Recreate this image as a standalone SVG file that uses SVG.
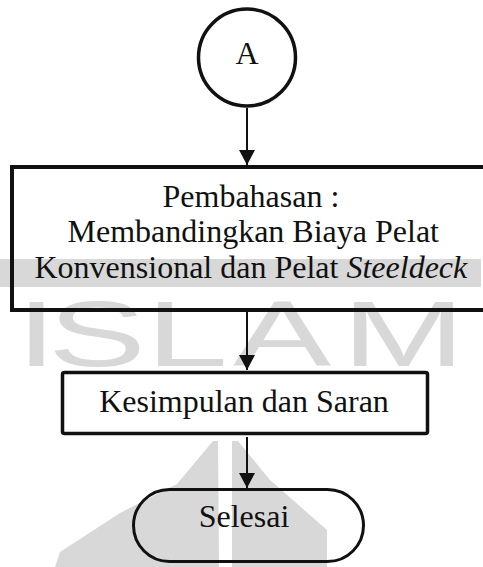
<svg xmlns="http://www.w3.org/2000/svg" width="483" height="567" viewBox="0 0 483 567">
  <style>
    .lbl { font-family: "Liberation Serif", "Times New Roman", serif; font-size: 32px; fill: #111; }
    .wm { font-family: "Liberation Sans", Arial, sans-serif; font-size: 92px; fill: #d8d8d8; }
    .shape { fill: none; stroke: #111; }
    .conn { stroke: #111; stroke-width: 2; fill: none; }
  </style>
  <defs>
    <marker id="arrow" markerUnits="userSpaceOnUse" markerWidth="16" markerHeight="16" refX="15" refY="8" orient="auto">
      <path d="M0,0 L15,8 L0,16 Z" fill="#111"/>
    </marker>
  </defs>
  <rect width="483" height="567" fill="#fff"/>
  <g id="watermark">
    <rect x="0" y="259" width="481" height="28" fill="#d8d8d8"/>
    <text class="wm" x="16" y="366" textLength="41" lengthAdjust="spacingAndGlyphs">I</text>
    <text class="wm" x="48" y="366" textLength="98" lengthAdjust="spacingAndGlyphs">S</text>
    <text class="wm" x="146" y="366" textLength="82" lengthAdjust="spacingAndGlyphs">L</text>
    <text class="wm" x="233" y="366" textLength="98" lengthAdjust="spacingAndGlyphs">A</text>
    <text class="wm" x="342" y="366" textLength="123" lengthAdjust="spacingAndGlyphs">M</text>
    <polygon points="213,441 218,441 219,567 55,567 60,552 120,513 177,484" fill="#d8d8d8"/>
    <polygon points="232,441 238,441 270,480 327,530 327,567 232,567" fill="#d8d8d8"/>
  </g>
  <g id="connectors">
    <line class="conn" x1="247" y1="108" x2="247" y2="165" marker-end="url(#arrow)"/>
    <line class="conn" x1="247" y1="312" x2="247" y2="370" marker-end="url(#arrow)"/>
    <line class="conn" x1="247" y1="437" x2="247" y2="488" marker-end="url(#arrow)"/>
  </g>
  <g id="node-a">
    <circle class="shape" cx="247" cy="57.5" r="48.5" stroke-width="3.5"/>
    <text class="lbl" x="247" y="64" text-anchor="middle" font-size="28">A</text>
  </g>
  <g id="node-pembahasan">
    <rect class="shape" x="12" y="167" width="480" height="143" stroke-width="4"/>
    <text class="lbl" x="162.5" y="206.5">Pembahasan :</text>
    <text class="lbl" x="67.5" y="242">Membandingkan Biaya Pelat</text>
    <text class="lbl" x="34.5" y="277.5">Konvensional dan Pelat <tspan font-style="italic">Steeldeck</tspan></text>
  </g>
  <g id="node-kesimpulan">
    <rect class="shape" x="62.5" y="372.5" width="365" height="61" rx="2" stroke-width="3.5"/>
    <text class="lbl" x="244" y="412" text-anchor="middle">Kesimpulan dan Saran</text>
  </g>
  <g id="node-selesai">
    <rect class="shape" x="133.5" y="489.5" width="230" height="72" rx="36" stroke-width="3"/>
    <text class="lbl" x="244" y="527" text-anchor="middle">Selesai</text>
  </g>
</svg>
